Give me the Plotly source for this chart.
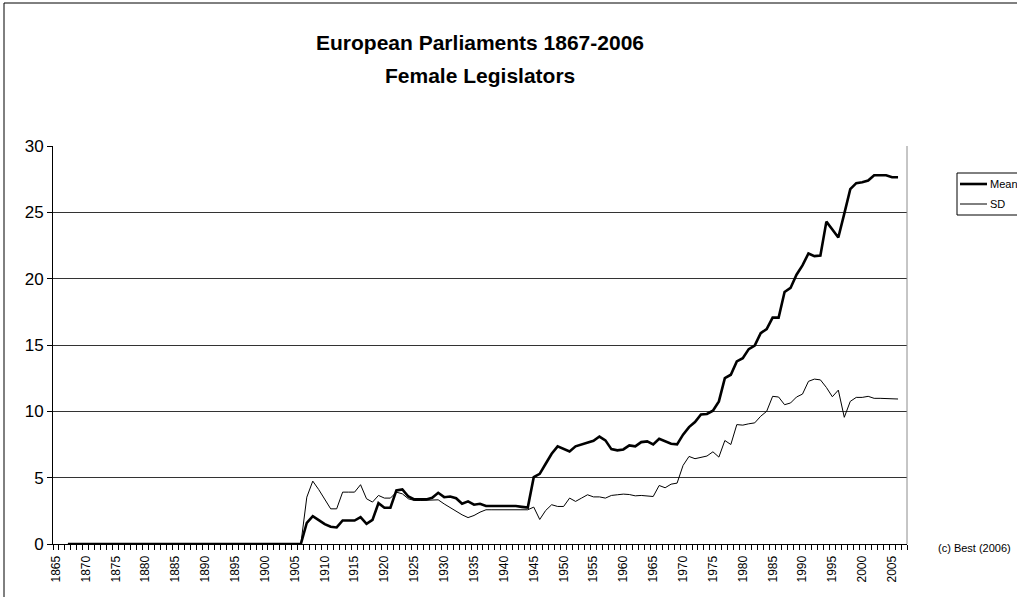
import plotly.graph_objects as go

# Years covered by the series (1867-2006)
years = list(range(1867, 2007))

# Mean share of female legislators (%)
mean_pct = [
    0, 0, 0, 0, 0, 0, 0, 0, 0, 0,            # 1867-1876
    0, 0, 0, 0, 0, 0, 0, 0, 0, 0,            # 1877-1886
    0, 0, 0, 0, 0, 0, 0, 0, 0, 0,            # 1887-1896
    0, 0, 0, 0, 0, 0, 0, 0, 0, 0,            # 1897-1906
    1.6, 2.1, 1.8, 1.5, 1.3, 1.25, 1.77, 1.77, 1.77, 2.02,      # 1907-1916
    1.52, 1.82, 3.08, 2.73, 2.73, 4.04, 4.11, 3.58, 3.36, 3.36, # 1917-1926
    3.36, 3.48, 3.86, 3.53, 3.58, 3.45, 3.03, 3.21, 2.96, 3.03, # 1927-1936
    2.86, 2.86, 2.86, 2.86, 2.86, 2.86, 2.8, 2.75, 5.04, 5.29,  # 1937-1946
    6.05, 6.8, 7.36, 7.18, 6.98, 7.36, 7.51, 7.63, 7.78, 8.1,   # 1947-1956
    7.81, 7.15, 7.06, 7.13, 7.43, 7.36, 7.68, 7.73, 7.51, 7.93, # 1957-1966
    7.76, 7.56, 7.51, 8.24, 8.81, 9.19, 9.76, 9.8, 10.05, 10.75,  # 1967-1976
    12.5, 12.76, 13.76, 14.0, 14.69, 14.96, 15.89, 16.2, 17.06, 17.06,  # 1977-1986
    19.0, 19.3, 20.3, 21.0, 21.9, 21.7, 21.75, 24.3, 23.7, 23.1,  # 1987-1996
    24.9, 26.75, 27.2, 27.27, 27.4, 27.8, 27.8, 27.8, 27.65, 27.65,  # 1997-2006
]

# Standard deviation across parliaments
sd_pct = [
    0, 0, 0, 0, 0, 0, 0, 0, 0, 0,            # 1867-1876
    0, 0, 0, 0, 0, 0, 0, 0, 0, 0,            # 1877-1886
    0, 0, 0, 0, 0, 0, 0, 0, 0, 0,            # 1887-1896
    0, 0, 0, 0, 0, 0, 0, 0, 0, 0,            # 1897-1906
    3.53, 4.74, 4.1, 3.4, 2.65, 2.65, 3.91, 3.91, 3.91, 4.47,   # 1907-1916
    3.41, 3.16, 3.66, 3.46, 3.46, 3.91, 3.78, 3.41, 3.28, 3.28, # 1917-1926
    3.28, 3.28, 3.33, 3.02, 2.73, 2.5, 2.2, 1.99, 2.15, 2.4,    # 1927-1936
    2.58, 2.58, 2.58, 2.58, 2.58, 2.58, 2.58, 2.58, 2.78, 1.85, # 1937-1946
    2.53, 2.96, 2.83, 2.83, 3.46, 3.21, 3.46, 3.71, 3.55, 3.55, # 1947-1956
    3.46, 3.66, 3.71, 3.76, 3.73, 3.63, 3.66, 3.61, 3.58, 4.41, # 1957-1966
    4.24, 4.51, 4.59, 5.92, 6.6, 6.43, 6.55, 6.63, 6.95, 6.55,  # 1967-1976
    7.8, 7.5, 9.0, 8.96, 9.06, 9.13, 9.63, 10.0, 11.13, 11.08,  # 1977-1986
    10.5, 10.63, 11.08, 11.3, 12.26, 12.43, 12.37, 11.8, 11.1, 11.6,  # 1987-1996
    9.55, 10.75, 11.05, 11.05, 11.13, 10.98, 10.98, 10.98, 10.93, 10.93,  # 1997-2006
]

tick_years = list(range(1865, 2006, 5))
y_ticks = [0, 5, 10, 15, 20, 25, 30]

W, H = 1017, 597
ML, MR, MT, MB = 53, 110, 146, 53
PW, PH = W - ML - MR, H - MT - MB


def px(x):
    return (x - ML) / PW


def py(y):
    return (H - MB - y) / PH


FONT = "Liberation Sans, Arial, sans-serif"

fig = go.Figure()
fig.add_trace(go.Scatter(x=years, y=mean_pct, mode="lines", name="Mean",
                         line=dict(color="black", width=2.6)))
fig.add_trace(go.Scatter(x=years, y=sd_pct, mode="lines", name="SD",
                         line=dict(color="black", width=1)))

shapes = [
    # outer chart frame
    dict(type="rect", xref="paper", yref="paper", x0=px(4), x1=px(1100),
         y0=py(700), y1=py(3), line=dict(color="black", width=1), layer="below"),
    # plot area right border
    dict(type="line", xref="paper", yref="paper", x0=1, x1=1, y0=0, y1=1,
         line=dict(color="#8c8c8c", width=1)),
    # legend box and samples
    dict(type="rect", xref="paper", yref="paper", x0=px(957), x1=px(1040),
         y0=py(215), y1=py(173), line=dict(color="black", width=1),
         fillcolor="white"),
    dict(type="line", xref="paper", yref="paper", x0=px(960), x1=px(987),
         y0=py(184), y1=py(184), line=dict(color="black", width=2.6)),
    dict(type="line", xref="paper", yref="paper", x0=px(960), x1=px(987),
         y0=py(204), y1=py(204), line=dict(color="black", width=1)),
]

annotations = [
    dict(text="<b>European Parliaments 1867-2006</b>", xref="paper", yref="paper",
         x=0.5, y=py(43), xanchor="center", yanchor="middle", showarrow=False,
         font=dict(family=FONT, size=21, color="black")),
    dict(text="<b>Female Legislators</b>", xref="paper", yref="paper",
         x=0.5, y=py(75), xanchor="center", yanchor="middle", showarrow=False,
         font=dict(family=FONT, size=21, color="black")),
    dict(text="Mean", xref="paper", yref="paper", x=px(988), y=py(184),
         xanchor="left", yanchor="middle", showarrow=False,
         font=dict(family=FONT, size=11, color="black")),
    dict(text="SD", xref="paper", yref="paper", x=px(988), y=py(204),
         xanchor="left", yanchor="middle", showarrow=False,
         font=dict(family=FONT, size=11, color="black")),
    dict(text="(c) Best (2006)", xref="paper", yref="paper", x=px(1013), y=py(548),
         xanchor="right", yanchor="middle", showarrow=False,
         font=dict(family=FONT, size=11, color="black")),
]

fig.update_layout(
    width=W, height=H,
    margin=dict(l=ML, r=MR, t=MT, b=MB, autoexpand=False),
    paper_bgcolor="white", plot_bgcolor="white",
    showlegend=False,
    shapes=shapes, annotations=annotations,
    font=dict(family=FONT, color="black"),
)

fig.update_xaxes(
    range=[1864.5, 2007.5], tickmode="array", tickvals=tick_years,
    ticktext=[str(t) for t in tick_years], tickangle=-90,
    tickfont=dict(family=FONT, size=12), ticks="", ticklabelstandoff=6,
    minor=dict(ticks="outside", tick0=1864.5, dtick=1, ticklen=5,
               tickcolor="black", showgrid=False),
    showgrid=False, zeroline=False, showline=True, linecolor="black",
    linewidth=1,
)
fig.update_yaxes(
    range=[0, 30], tickmode="array", tickvals=y_ticks,
    tickfont=dict(family=FONT, size=17), ticks="outside", ticklen=5,
    tickcolor="black", showgrid=True, gridcolor="#333333", gridwidth=1,
    zeroline=False, showline=True, linecolor="black", linewidth=1,
)

fig.write_html("out.html")
